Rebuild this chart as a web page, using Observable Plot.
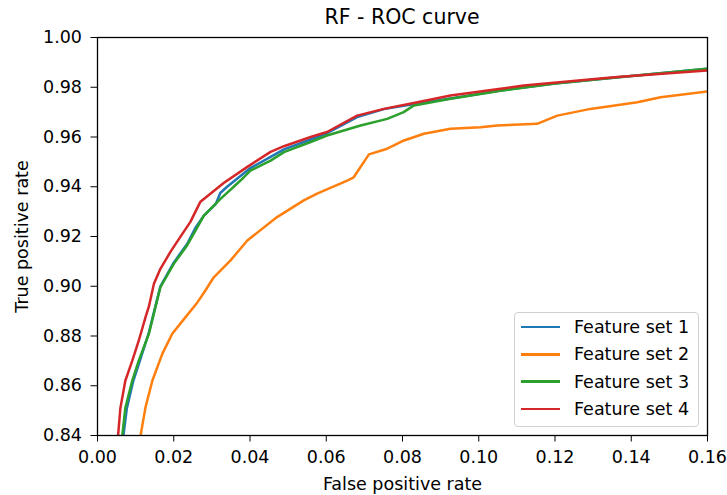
<!DOCTYPE html>
<html>
<head>
<meta charset="utf-8">
<script src="https://cdn.jsdelivr.net/npm/d3@7"></script>
<script src="https://cdn.jsdelivr.net/npm/@observablehq/plot@0.6"></script>
<style>
  html, body { margin: 0; padding: 0; background: #fff; }
  #wrap { position: relative; width: 727px; height: 495px; font-family: "DejaVu Sans", sans-serif; color: #000; }
  #title { height: 28px; line-height: 34px; padding-left: 97px; width: 610px; text-align: center; font-size: 20.5px; }
  #legend { position: absolute; left: 514px; top: 312px; width: 185px; height: 115px; box-sizing: border-box;
            border: 1px solid #d0d0d0; border-radius: 4px; background: rgba(255,255,255,0.8); }
  .row { position: absolute; left: 0; height: 24px; display: flex; align-items: center; font-size: 17.5px; }
  .sw { width: 39px; height: 2.5px; margin-left: 6px; margin-right: 14px; }
</style>
</head>
<body>
<div id="wrap">
  <div id="title"></div>
  <div id="chart"></div>
  <div id="legend"></div>
</div>
<script>
const title = "RF - ROC curve";
const xLabel = "False positive rate";
const yLabel = "True positive rate";
const seriesNames = ["Feature set 1", "Feature set 2", "Feature set 3", "Feature set 4"];
const seriesColors = ["#1f77b4", "#ff7f0e", "#2ca02c", "#d62728"];
const xTicks = [0.00, 0.02, 0.04, 0.06, 0.08, 0.10, 0.12, 0.14, 0.16];
const yTicks = [0.84, 0.86, 0.88, 0.90, 0.92, 0.94, 0.96, 0.98, 1.00];

// [false positive rate, true positive rate]
const set1 = [[0.0068,0.840],[0.0077,0.851],[0.0094,0.862],[0.0111,0.870],[0.0135,0.8815],[0.0152,0.892],[0.0165,0.900],[0.0200,0.9095],[0.0235,0.917],[0.0257,0.9235],[0.0279,0.9284],[0.0310,0.933],[0.0322,0.9375],[0.0340,0.940],[0.0401,0.9475],[0.0454,0.952],[0.0489,0.955],[0.0559,0.959],[0.0602,0.9615],[0.0681,0.968],[0.0751,0.9712],[0.0839,0.9735],[0.0926,0.9755],[0.1057,0.9787],[0.1200,0.9815],[0.1400,0.9845],[0.1600,0.9875]];
const set2 = [[0.0113,0.840],[0.0126,0.8514],[0.0144,0.8621],[0.0170,0.8728],[0.0196,0.8809],[0.0231,0.8876],[0.0262,0.8935],[0.0283,0.8983],[0.0305,0.9036],[0.0349,0.9104],[0.0393,0.9184],[0.0471,0.9278],[0.0541,0.9345],[0.0576,0.9372],[0.0655,0.9425],[0.0672,0.9438],[0.0712,0.953],[0.0760,0.9553],[0.0804,0.9586],[0.0856,0.9613],[0.0926,0.9633],[0.1005,0.9639],[0.1049,0.9646],[0.1153,0.9653],[0.1206,0.9686],[0.1293,0.9713],[0.1416,0.974],[0.1477,0.976],[0.1600,0.9783]];
const set3 = [[0.0065,0.840],[0.0073,0.851],[0.0091,0.862],[0.0108,0.870],[0.0135,0.881],[0.0152,0.8916],[0.0165,0.8996],[0.0200,0.909],[0.0235,0.9164],[0.0257,0.9224],[0.0279,0.9284],[0.0322,0.935],[0.0375,0.9425],[0.0401,0.9465],[0.0454,0.9505],[0.0489,0.9539],[0.0559,0.958],[0.0602,0.9606],[0.0690,0.9646],[0.0760,0.9673],[0.0803,0.970],[0.0830,0.9727],[0.0926,0.9754],[0.1057,0.9786],[0.1200,0.9815],[0.1400,0.9845],[0.1600,0.9875]];
const set4 = [[0.0054,0.840],[0.0060,0.851],[0.0073,0.862],[0.0091,0.870],[0.0108,0.878],[0.0126,0.8876],[0.0135,0.892],[0.0148,0.901],[0.0165,0.907],[0.0192,0.914],[0.0244,0.926],[0.0270,0.934],[0.0331,0.9415],[0.0393,0.948],[0.0454,0.954],[0.0489,0.9563],[0.0559,0.960],[0.0602,0.962],[0.0681,0.9686],[0.0751,0.9713],[0.0839,0.974],[0.0926,0.9767],[0.1057,0.9794],[0.1118,0.9807],[0.1355,0.984],[0.1600,0.9867]];

const allSets = [set1, set2, set3, set4];
const rows = allSets.flatMap((s, i) => s.map(([fpr, tpr]) => ({fpr, tpr, series: seriesNames[i]})));

document.getElementById("title").textContent = title;

const chart = Plot.plot({
  width: 727,
  height: 467,
  marginTop: 9,
  marginBottom: 60,
  marginLeft: 97,
  marginRight: 20,
  style: {fontFamily: "DejaVu Sans, sans-serif", fontSize: "17.5px", color: "#000", background: "#fff"},
  x: {domain: [0, 0.16]},
  y: {domain: [0.84, 1.0]},
  color: {domain: seriesNames, range: seriesColors},
  marks: [
    Plot.line(rows, {x: "fpr", y: "tpr", z: "series", stroke: "series", strokeWidth: 2.5, clip: true}),
    Plot.frame({stroke: "#000", strokeWidth: 1.3}),
    Plot.axisX({ticks: xTicks, tickFormat: d3.format(".2f"), tickSize: 6.5, tickPadding: 9, label: xLabel, labelAnchor: "center", labelOffset: 54, labelArrow: "none", stroke: "#000"}),
    Plot.axisY({ticks: yTicks, tickFormat: d3.format(".2f"), tickSize: 6.5, tickPadding: 9, label: yLabel, labelAnchor: "center", labelOffset: 82, labelArrow: "none", stroke: "#000"})
  ]
});
document.getElementById("chart").appendChild(chart);

const legend = document.getElementById("legend");
seriesNames.forEach((name, i) => {
  const r = document.createElement("div");
  r.className = "row";
  r.style.top = (2 + i * 27.3) + "px";
  const sw = document.createElement("div");
  sw.className = "sw";
  sw.style.background = seriesColors[i];
  const t = document.createElement("span");
  t.textContent = name;
  r.appendChild(sw);
  r.appendChild(t);
  legend.appendChild(r);
});
</script>
</body>
</html>
